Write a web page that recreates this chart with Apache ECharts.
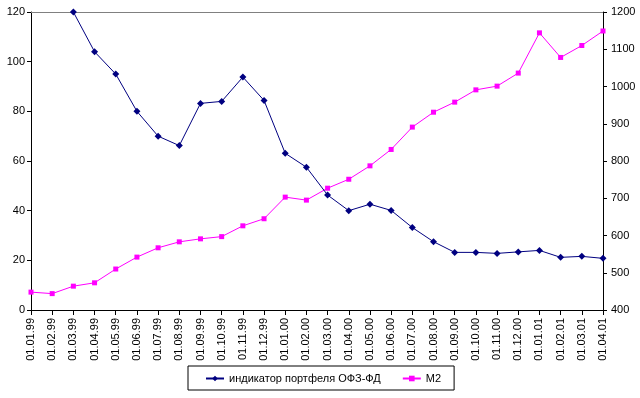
<!DOCTYPE html>
<html><head><meta charset="utf-8">
<script src="https://cdn.jsdelivr.net/npm/echarts@6/dist/echarts.min.js"></script>
<style>html,body{margin:0;padding:0;background:#fff}#c{width:640px;height:398px}</style>
</head><body><div id="c"></div>
<script>
const categories = ["01.01.99","01.02.99","01.03.99","01.04.99","01.05.99","01.06.99","01.07.99","01.08.99","01.09.99","01.10.99","01.11.99","01.12.99","01.01.00","01.02.00","01.03.00","01.04.00","01.05.00","01.06.00","01.07.00","01.08.00","01.09.00","01.10.00","01.11.00","01.12.00","01.01.01","01.02.01","01.03.01","01.04.01"];
const ofzValues = [null,null,120,104,95,80,70,66.2,83.2,84,93.8,84.4,63.1,57.5,46.3,40,42.6,40.1,33.2,27.5,23.2,23.2,22.8,23.4,24,21.2,21.6,20.8];
const m2Values = [448,444,464,473,510,542,567,583,591,597,626,645,703,695,727,751,787,831,891,931,958,991,1001,1036,1144,1078,1110,1149];
const leftTicks = {min:0,max:120,interval:20};
const rightTicks = {min:400,max:1200,interval:100};
const seriesNames = ["индикатор портфеля ОФЗ-ФД","M2"];

const font = "Liberation Sans";
const chart = echarts.init(document.getElementById('c'));
chart.setOption({
  animation:false,
  backgroundColor:'#ffffff',
  textStyle:{fontFamily:font},
  grid:{left:31,right:37,top:12,bottom:88},
  legend:{
    left:188, top:366,
    data:seriesNames,
    itemWidth:18, itemHeight:7, itemGap:21,
    padding:[7,13,6,17],
    borderColor:'#000', borderWidth:1,
    textStyle:{fontFamily:font,fontSize:11,color:'#000'}
  },
  xAxis:[{
    type:'category', data:categories, boundaryGap:false,
    axisLine:{lineStyle:{color:'#000',width:1}},
    axisTick:{show:true,interval:0,length:5,lineStyle:{color:'#000'}},
    axisLabel:{interval:0,rotate:90,margin:8,fontSize:11,color:'#000',fontFamily:font},
    splitLine:{show:false}
  },{
    type:'category', data:categories, boundaryGap:false, position:'top',
    axisLine:{lineStyle:{color:'#808080',width:1}},
    axisTick:{show:false}, axisLabel:{show:false}, splitLine:{show:false}
  }],
  yAxis:[{
    type:'value', min:leftTicks.min, max:leftTicks.max, interval:leftTicks.interval, position:'left',
    axisLine:{show:true,lineStyle:{color:'#000'}},
    axisTick:{show:true,length:4,lineStyle:{color:'#000'}},
    axisLabel:{margin:6,fontSize:11,color:'#000',fontFamily:font,formatter:v=>String(v)},
    splitLine:{show:false}
  },{
    type:'value', min:rightTicks.min, max:rightTicks.max, interval:rightTicks.interval, position:'right',
    axisLine:{show:true,lineStyle:{color:'#000'}},
    axisTick:{show:true,length:4,lineStyle:{color:'#000'}},
    axisLabel:{margin:8,fontSize:11,color:'#000',fontFamily:font,formatter:v=>String(v)},
    splitLine:{show:false}
  }],
  series:[{
    name:seriesNames[0], type:'line', yAxisIndex:0, data:ofzValues,
    color:'#000080', symbol:'diamond', symbolSize:7, showAllSymbol:true,
    lineStyle:{width:1,color:'#000080'}, itemStyle:{color:'#000080'}, z:3
  },{
    name:seriesNames[1], type:'line', yAxisIndex:1, data:m2Values,
    color:'#ff00ff', symbol:'rect', symbolSize:5, showAllSymbol:true,
    lineStyle:{width:1,color:'#ff00ff'}, itemStyle:{color:'#ff00ff'}, z:2
  }]
});
</script></body></html>
